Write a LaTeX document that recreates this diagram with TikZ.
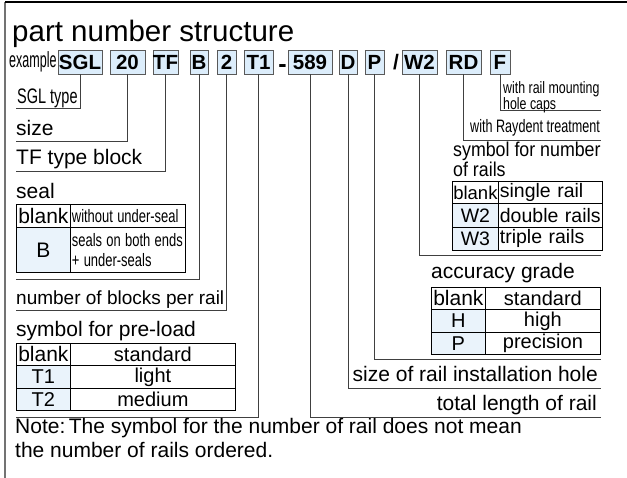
\documentclass[tikz,border=0pt]{standalone}
\usepackage{fontspec}
\setmainfont{Liberation Sans}
\usepackage{graphicx}
\definecolor{boxblue}{RGB}{220,237,251}
\definecolor{cellblue}{RGB}{234,243,251}
\newcommand\cond[2][0.8]{\scalebox{#1}[1]{#2}}
\newcommand\fsz[1]{\fontsize{#1}{#1}\selectfont}
\begin{document}
\begin{tikzpicture}[x=1pt,y=-1pt,
  pbox/.style={draw=black!65, line width=0.8pt, fill=boxblue, inner sep=0pt, minimum height=24pt, font=\bfseries\fsz{20.5}},
  conn/.style={draw=black!75, line width=0.9pt},
  lbl/.style={inner sep=0pt, anchor=base west, font=\fsz{21}},
  rlbl/.style={inner sep=0pt, anchor=base east, font=\fsz{21}},
  cellk/.style={draw=black, line width=0.8pt, fill=cellblue, inner sep=0pt, anchor=north west, font=\fsz{20}},
  cellw/.style={draw=black, line width=0.8pt, fill=white, inner sep=0pt, anchor=north west, font=\fsz{20}},
]
\useasboundingbox (0,0) rectangle (627,478);
\fill[white] (0,0) rectangle (627,478);
\draw[black!55, line width=1.2pt] (5,2) -- (5,478);
\draw[black, line width=1.2pt] (5,2) -- (627,2);

% title
\node[lbl, font=\fsz{29.5}] (title) at (12,42) {part number structure};
\node[lbl, font=\fsz{22}] (example) at (9,68) {\cond[0.57]{example}};

% part number boxes
\node[pbox, minimum width=44pt] (sgl) at (80,62) {SGL};
\node[pbox, minimum width=35pt] (b20) at (127.5,62) {20};
\node[pbox, minimum width=25pt] (tf) at (165.5,62) {TF};
\node[pbox, minimum width=18pt] (bb) at (199,62) {B};
\node[pbox, minimum width=19pt] (b2) at (226.5,62) {2};
\node[pbox, minimum width=29pt] (t1) at (258.5,62) {T1};
\node[inner sep=0pt, anchor=base, font=\bfseries\fsz{25}] (dash) at (282.5,73) {-};
\node[pbox, minimum width=44pt] (b589) at (310,62) {589};
\node[pbox, minimum width=18pt] (dd) at (348,62) {D};
\node[pbox, minimum width=19pt] (pp) at (374.5,62) {P};
\node[inner sep=0pt, anchor=base, font=\bfseries\fsz{21}] (slash) at (396,70) {/};
\node[pbox, minimum width=35pt] (w2) at (419.5,62) {W2};
\node[pbox, minimum width=35pt] (rd) at (463.5,62) {RD};
\node[pbox, minimum width=20pt] (ff) at (500,62) {F};

% ---- left side
\coordinate (csgl) at (16,108);
\coordinate (c20) at (16,141);
\coordinate (ctf) at (16,171);
\coordinate (cb) at (16,279);
\coordinate (c2) at (16,310);
\coordinate (ct1) at (16,417);
\draw[conn] (sgl.south) |- (csgl);
\draw[conn] (b20.south) |- (c20);
\draw[conn] (tf.south) |- (ctf);
\draw[conn] (bb.south) |- (cb);
\draw[conn] (b2.south) |- (c2);
\draw[conn] (t1.south) |- (ct1);

\node[lbl, font=\fsz{21}] (sgltype) at (17,104) {\cond[0.69]{SGL type}};
\node[lbl] (size) at (16,136) {size};
\node[lbl] (tftype) at (16,165) {TF type block};
\node[lbl] (seal) at (16,199) {seal};

% seal table
\node[cellw, minimum width=54pt, minimum height=23pt, font=\fsz{21}] (s1k) at (16,204) {blank};
\node[cellw, minimum width=115pt, minimum height=23pt, text width=112pt, inner xsep=1.5pt, align=left, font=\fsz{18}] (s1v) at (70,204) {\cond[0.72]{without under-seal}};
\node[cellk, minimum width=54pt, minimum height=45pt, font=\fsz{21}] (s2k) at (16,227) {B};
\node[cellw, minimum width=115pt, minimum height=45pt, text width=112pt, inner xsep=1.5pt, align=left, font=\fontsize{18}{20}\selectfont] (s2v) at (70,227) {\cond[0.72]{seals on both ends}\\\cond[0.72]{+ under-seals}};

\node[lbl, font=\fsz{19}] (nblocks) at (16,305) {number of blocks per rail};
\node[lbl] (preload) at (16,337) {symbol for pre-load};

% preload table
\node[cellw, minimum width=54pt, minimum height=22pt, font=\fsz{21}] (p1k) at (16,343) {blank};
\node[cellw, minimum width=165pt, minimum height=22pt] (p1v) at (70,343) {standard};
\node[cellk, minimum width=54pt, minimum height=23pt] (p2k) at (16,365) {T1};
\node[cellw, minimum width=165pt, minimum height=23pt] (p2v) at (70,365) {light};
\node[cellk, minimum width=54pt, minimum height=22pt] (p3k) at (16,388) {T2};
\node[cellw, minimum width=165pt, minimum height=22pt] (p3v) at (70,388) {medium};

% note
\node[lbl] (note1) at (15,434) {Note:\,The symbol for the number of rail does not mean};
\node[lbl] (note2) at (15,457) {the number of rails ordered.};

% ---- right side
\coordinate (cff) at (601,110);
\coordinate (crd) at (601,140);
\coordinate (cw2) at (601,255);
\coordinate (cpp) at (601,359);
\coordinate (cdd) at (601,388);
\coordinate (c589) at (601,417);
\draw[conn] (ff.south) |- (cff);
\draw[conn] (rd.south) |- (crd);
\draw[conn] (w2.south) |- (cw2);
\draw[conn] (pp.south) |- (cpp);
\draw[conn] (dd.south) |- (cdd);
\draw[conn] (b589.south) |- (c589);

\node[inner sep=0pt, anchor=north west, align=left, font=\fontsize{16.5}{12}\selectfont] (caps) at (503,81) {\cond[0.75]{with rail mounting}\\\cond[0.75]{hole caps}};
\node[rlbl, font=\fsz{18}] (raydent) at (600,133) {\cond[0.7]{with Raydent treatment}};
\node[inner sep=0pt, anchor=north west, align=left, font=\fontsize{20}{17}\selectfont] (nrails) at (453,142) {\cond[0.89]{symbol for number}\\\cond[0.89]{of rails}};

% rails table
\node[cellw, minimum width=46pt, minimum height=22pt, font=\fsz{18.5}] (r1k) at (452,181) {blank};
\node[cellw, minimum width=104pt, minimum height=22pt, text width=101pt, inner xsep=1.5pt, align=left, font=\fsz{19.5}] (r1v) at (498,181) {single rail};
\node[cellk, minimum width=46pt, minimum height=24pt, font=\fsz{19.5}] (r2k) at (452,203) {W2};
\node[cellw, minimum width=104pt, minimum height=24pt, text width=101pt, inner xsep=1.5pt, align=left, font=\fsz{19.5}] (r2v) at (498,203) {double rails};
\node[cellk, minimum width=46pt, minimum height=23pt, font=\fsz{19.5}] (r3k) at (452,227) {W3};
\node[cellw, minimum width=104pt, minimum height=23pt, text width=101pt, inner xsep=1.5pt, align=left, font=\fsz{19.5}] (r3v) at (498,227) {triple rails};

\node[lbl] (accgrade) at (431,279) {accuracy grade};
% accuracy table
\node[cellw, minimum width=54pt, minimum height=22pt, font=\fsz{21}] (a1k) at (431,287) {blank};
\node[cellw, minimum width=115pt, minimum height=22pt] (a1v) at (485,287) {standard};
\node[cellk, minimum width=54pt, minimum height=23pt] (a2k) at (431,309) {H};
\node[cellw, minimum width=115pt, minimum height=23pt] (a2v) at (485,309) {high};
\node[cellk, minimum width=54pt, minimum height=22pt] (a3k) at (431,332) {P};
\node[cellw, minimum width=115pt, minimum height=22pt] (a3v) at (485,332) {precision};

\node[rlbl] (holesize) at (598,382) {size of rail installation hole};
\node[rlbl] (totlen) at (597,411) {total length of rail};
\end{tikzpicture}
\end{document}
